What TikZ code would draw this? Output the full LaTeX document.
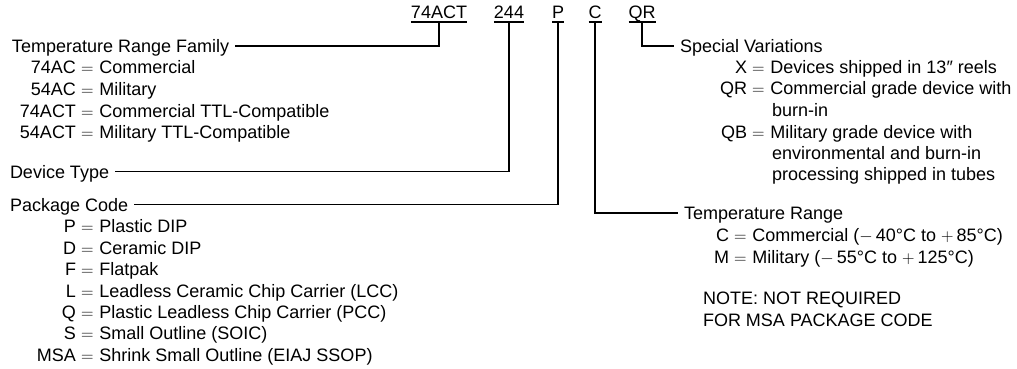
\documentclass[tikz,border=0pt]{standalone}
\usepackage{fontspec}
\setmainfont{Liberation Sans}
\newcommand\eqrow[2]{\llap{#1\hspace{5pt}}$=$\hspace{6pt}#2}
\begin{document}
\begin{tikzpicture}[x=1pt,y=-1pt,
  fnt/.style={font=\fontsize{18}{21}\selectfont},
  txt/.style={fnt, inner sep=0pt, outer sep=0pt, anchor=base west},
  lbl/.style={fnt, inner ysep=0pt, inner xsep=6pt, outer sep=0pt, text height=12.9pt, text depth=0pt, anchor=base west},
  hdr/.style={fnt, inner sep=0pt, outer sep=0pt, text height=12.9pt, text depth=3pt, anchor=base},
  conn/.style={line width=1.6pt},
  uline/.style={line width=1.3pt}]
\useasboundingbox (0,0) rectangle (1017,369);
% header codes
\node[hdr] (h1) at (439,19) {74ACT};
\node[hdr] (h2) at (509,19) {244};
\node[hdr] (h3) at (558,19) {P};
\node[hdr] (h4) at (595,19) {C};
\node[hdr] (h5) at (642,19) {QR};
\foreach \n in {h1,h2,h3,h4,h5} \draw[uline] (\n.south west) -- (\n.south east);
% left labels
\node[lbl] (fam) at (6,52.5) {Temperature Range Family};
\node[lbl] (dev) at (4,178) {Device Type};
\node[lbl] (pkg) at (4,211) {Package Code};
% right labels
\node[lbl] (spec) at (674,52.5) {Special Variations};
\node[lbl] (temp) at (678,219.5) {Temperature Range};
% connectors
\draw[conn] (fam.east) -| (h1.south);
\draw[conn] (dev.east) -| (h2.south);
\draw[conn] (pkg.east) -| (h3.south);
\draw[conn] (h4.south) |- (temp.west);
\draw[conn] (h5.south) |- (spec.west);
% family list
\node[txt] (f1) at (81,73.7) {\eqrow{74AC}{Commercial}};
\node[txt] (f2) at (81,95.5) {\eqrow{54AC}{Military}};
\node[txt] (f3) at (81,117) {\eqrow{74ACT}{Commercial TTL-Compatible}};
\node[txt] (f4) at (81,138) {\eqrow{54ACT}{Military TTL-Compatible}};
% package list
\node[txt] (p1) at (81,232.5) {\eqrow{P}{Plastic DIP}};
\node[txt] (p2) at (81,254) {\eqrow{D}{Ceramic DIP}};
\node[txt] (p3) at (81,275.5) {\eqrow{F}{Flatpak}};
\node[txt] (p4) at (81,297) {\eqrow{L}{Leadless Ceramic Chip Carrier (LCC)}};
\node[txt] (p5) at (81,318.5) {\eqrow{Q}{Plastic Leadless Chip Carrier (PCC)}};
\node[txt] (p6) at (81,339.5) {\eqrow{S}{Small Outline (SOIC)}};
\node[txt] (p7) at (81,361) {\eqrow{MSA}{Shrink Small Outline (EIAJ SSOP)}};
% special variations list
\node[txt] (s1) at (752,73.5) {\eqrow{X}{Devices shipped in 13″ reels}};
\node[txt] (s2) at (752,94.5) {\eqrow{QR}{Commercial grade device with}};
\node[txt] (s3) at (772,116) {burn-in};
\node[txt] (s4) at (752,138) {\eqrow{QB}{Military grade device with}};
\node[txt] (s5) at (772,159) {environmental and burn-in};
\node[txt] (s6) at (772,180.5) {processing shipped in tubes};
% temperature list
\node[txt] (t1) at (734,241.5) {\eqrow{C}{Commercial ($-$\,40°C to $+$\,85°C)}};
\node[txt] (t2) at (734,263) {\eqrow{M}{Military ($-$\,55°C to $+$\,125°C)}};
% note
\node[txt] (n1) at (703,304.5) {NOTE: NOT REQUIRED};
\node[txt] (n2) at (703,326.5) {FOR MSA PACKAGE CODE};
\end{tikzpicture}
\end{document}
